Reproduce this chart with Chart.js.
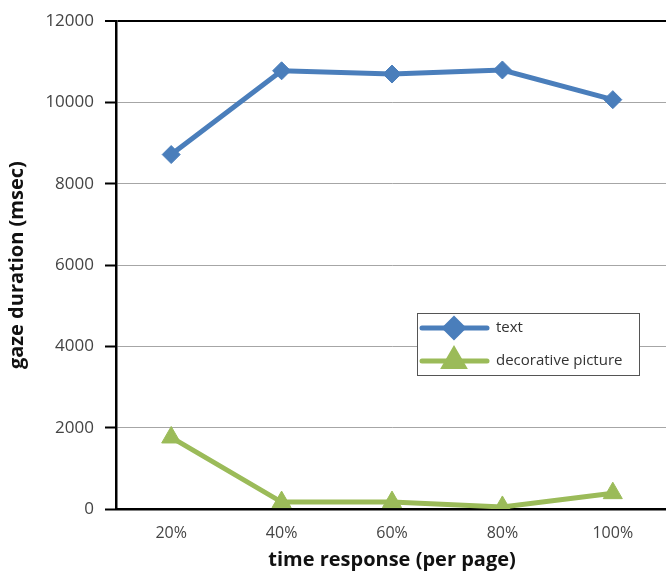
<!DOCTYPE html>
<html>
<head>
<meta charset="utf-8">
<script src="https://cdn.jsdelivr.net/npm/chart.js@4.4.1/dist/chart.umd.min.js"></script>
<style>
  html, body { margin: 0; padding: 0; background: #fff; overflow: hidden; }
  #wrap { width: 666px; height: 573px; overflow: hidden; }
</style>
</head>
<body>
<div id="wrap"><canvas id="chart" width="680" height="573"></canvas></div>
<script>
const labels = ["20%", "40%", "60%", "80%", "100%"];
const textValues = [8720, 10780, 10700, 10800, 10070];
const pictureValues = [1760, 170, 170, 50, 390];
const yTicks = [0, 2000, 4000, 6000, 8000, 10000, 12000];

const blue = "#4a7ebb";
const green = "#9bbb59";
const font = "'Open Sans', 'DejaVu Sans', sans-serif";

// legend box drawn inside the plot area, like the original
const boxLegend = {
  id: "boxLegend",
  afterDraw(chart) {
    const ctx = chart.ctx;
    const x = 417, y = 313, w = 222, h = 62;
    ctx.save();
    ctx.fillStyle = "#fff";
    ctx.fillRect(x, y, w, h);
    ctx.strokeStyle = "#555";
    ctx.lineWidth = 1;
    ctx.strokeRect(x + 0.5, y + 0.5, w, h);
    chart.data.datasets.forEach((ds, i) => {
      const cy = y + 15 + i * 33;
      ctx.strokeStyle = ds.borderColor;
      ctx.lineWidth = ds.borderWidth;
      ctx.lineCap = "round";
      ctx.beginPath();
      ctx.moveTo(x + 5, cy);
      ctx.lineTo(x + 70, cy);
      ctx.stroke();
      Chart.helpers.drawPoint(ctx, {
        pointStyle: ds.pointStyle,
        radius: ds.pointRadius,
        rotation: 0,
        borderWidth: 1
      }, x + 37, cy);
      ctx.fillStyle = ds.borderColor;
      ctx.fill();
      ctx.fillStyle = "#333";
      ctx.font = "15px " + font;
      ctx.textBaseline = "middle";
      ctx.fillText(ds.label, x + 79, cy);
    });
    ctx.restore();
  }
};

new Chart(document.getElementById("chart"), {
  type: "line",
  data: {
    labels: labels,
    datasets: [
      {
        label: "text",
        data: textValues,
        borderColor: blue,
        backgroundColor: blue,
        borderWidth: 5,
        pointStyle: "rectRot",
        pointRadius: 9,
        pointBorderWidth: 1,
        tension: 0
      },
      {
        label: "decorative picture",
        data: pictureValues,
        borderColor: green,
        backgroundColor: green,
        borderWidth: 5,
        pointStyle: "triangle",
        pointRadius: 11,
        pointBorderWidth: 1,
        tension: 0
      }
    ]
  },
  options: {
    responsive: false,
    animation: false,
    layout: { padding: { left: 0, right: 6, top: 19, bottom: 0 } },
    plugins: {
      legend: { display: false },
      tooltip: { enabled: false }
    },
    scales: {
      x: {
        offset: true,
        grid: { display: false, drawTicks: false },
        border: { display: true, color: "#000", width: 2.5 },
        ticks: { color: "#444", font: { family: font, size: 16 }, padding: 15 },
        title: {
          display: true,
          text: "time response (per page)",
          color: "#111",
          font: { family: font, size: 20, weight: "bold" },
          padding: { top: 0, bottom: 1 }
        },
        afterFit(scale) { scale.height = 64; }
      },
      y: {
        min: 0,
        max: 12000,
        afterBuildTicks(scale) { scale.ticks = yTicks.map(v => ({ value: v })); },
        grid: {
          color: ctx => (ctx.tick && ctx.tick.value === 12000 ? "#000" : "#a6a6a6"),
          lineWidth: ctx => (ctx.tick && ctx.tick.value === 12000 ? 2 : 1),
          tickColor: "#000",
          tickWidth: 2,
          tickLength: 11
        },
        border: { display: true, color: "#000", width: 2.5 },
        ticks: {
          color: "#444",
          font: { family: font, size: 17 },
          padding: 11,
          callback: v => String(v)
        },
        title: {
          display: true,
          text: "gaze duration (msec)",
          color: "#111",
          font: { family: font, size: 20, weight: "bold" },
          padding: { top: 5, bottom: 0 }
        },
        afterFit(scale) { scale.width = 116; }
      }
    }
  },
  plugins: [boxLegend]
});
</script>
</body>
</html>
